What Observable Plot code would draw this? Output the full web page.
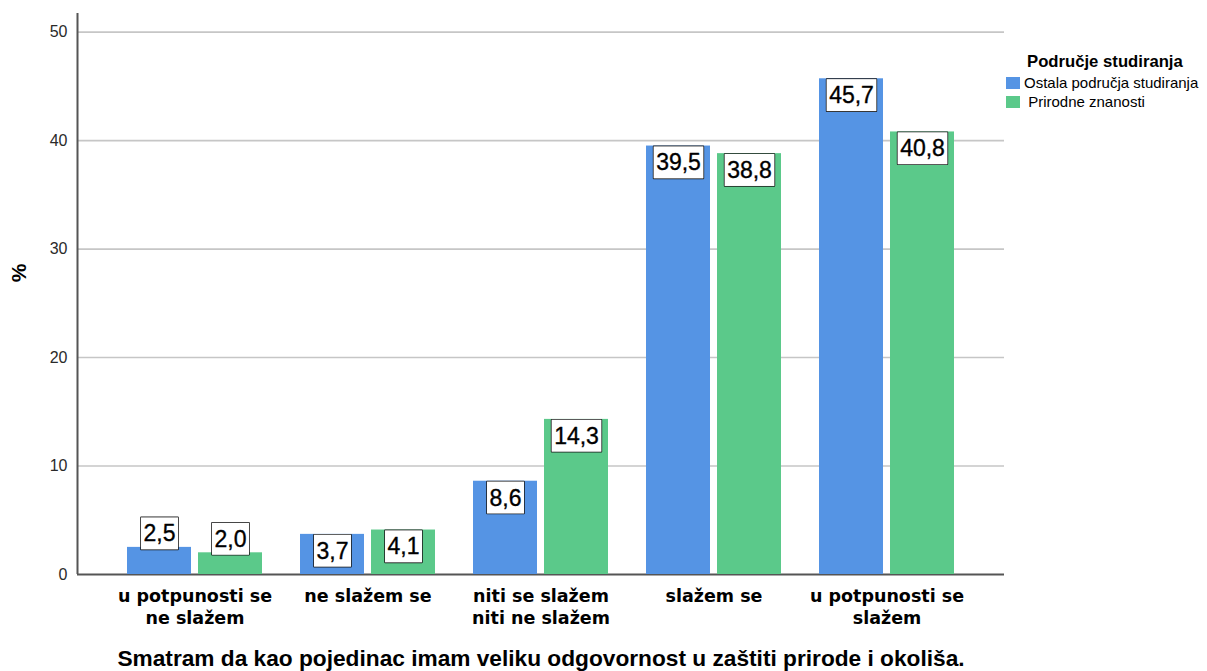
<!DOCTYPE html>
<html>
<head>
<meta charset="utf-8">
<script src="https://cdn.jsdelivr.net/npm/d3@7"></script>
<script src="https://cdn.jsdelivr.net/npm/@observablehq/plot@0.6"></script>
<style>
  body { margin: 0; background: #fff; }
  #wrap { position: relative; width: 1207px; height: 671px; overflow: hidden; font-family: "Liberation Sans", Arial, sans-serif; }
  #wrap svg { position: absolute; left: 0; top: 0; }
  #ytitle { position: absolute; left: 19px; top: 273px; transform: translate(-50%, -50%) rotate(-90deg); font-weight: bold; font-size: 21px; color: #000; white-space: nowrap; }
  #xtitle { position: absolute; left: 541px; top: 658px; transform: translate(-50%, -50%); font-weight: bold; font-size: 22.7px; line-height: 24px; color: #000; white-space: nowrap; }
  #legend { position: absolute; left: 1006px; top: 52px; color: #000; }
  #legend .lt { font-weight: bold; font-size: 16.7px; margin-left: 21px; line-height: 20px; margin-bottom: 2px; }
  #legend .it { display: flex; align-items: center; font-size: 15px; line-height: 18px; height: 18.5px; white-space: nowrap; }
  #legend .sw { width: 14px; height: 12px; margin-right: 4px; flex: none; }
</style>
</head>
<body>
<div id="wrap"></div>
<script>
// ---- data ----
const categories = ["u potpunosti se\nne slažem", "ne slažem se", "niti se slažem\nniti ne slažem", "slažem se", "u potpunosti se\nslažem"];
const seriesNames = ["Ostala područja studiranja", "Prirodne znanosti"];
const ostalaValues = [2.5, 3.7, 8.6, 39.5, 45.7];
const prirodneValues = [2.0, 4.1, 14.3, 38.8, 40.8];
const yTicks = [0, 10, 20, 30, 40, 50];
const seriesColors = ["#5594e4", "#5bc98a"];
const legendTitle = "Područje studiranja";
const xTitle = "Smatram da kao pojedinac imam veliku odgovornost u zaštiti prirode i okoliša.";
const yTitle = "%";

// ---- table ----
const rows = [];
categories.forEach((c, i) => {
  rows.push({category: c, series: seriesNames[0], value: ostalaValues[i]});
  rows.push({category: c, series: seriesNames[1], value: prirodneValues[i]});
});
const fmt = v => v.toFixed(1).replace(".", ",");

const W = 1207, H = 640;
const M = {top: 13, bottom: H - 574, left: 77, right: 1207 - 1004};
const yDomain = [0, 51.72];

const wrap = document.getElementById("wrap");

// ---- base layer: grid + axes ----
const basePlot = Plot.plot({
  width: W, height: H,
  marginTop: M.top, marginBottom: M.bottom, marginLeft: M.left, marginRight: M.right,
  style: {background: "transparent", fontFamily: "'Liberation Sans', Arial, sans-serif", fontSize: "16px", color: "#2a2a2a"},
  x: {domain: [0, 1], axis: null},
  y: {domain: yDomain, ticks: yTicks, tickSize: 0, tickPadding: 10, label: null, tickFormat: d => String(d)},
  marks: [
    Plot.ruleY(yTicks.filter(d => d > 0), {stroke: "#c6c6c6", strokeWidth: 1.6}),
    Plot.ruleY([0], {stroke: "#555", strokeWidth: 2}),
    Plot.ruleX([0], {stroke: "#555", strokeWidth: 2})
  ]
});
wrap.appendChild(basePlot);

// ---- top layer: bars + labels ----
const barPlot = Plot.plot({
  width: W, height: H,
  marginTop: M.top, marginBottom: M.bottom, marginLeft: M.left, marginRight: M.right,
  style: {background: "transparent", fontFamily: "'Liberation Sans', Arial, sans-serif"},
  fx: {domain: categories, paddingInner: 0.2215, paddingOuter: 0.283, axis: null, label: null},
  x: {domain: seriesNames, paddingInner: 0.1, paddingOuter: 0, axis: null},
  y: {domain: yDomain, axis: null},
  color: {domain: seriesNames, range: seriesColors},
  marks: [
    Plot.barY(rows, {fx: "category", x: "series", y: "value", fill: "series"}),
    Plot.text(rows.filter(d => d.value >= 3), {
      fx: "category", x: "series", y: "value", text: d => fmt(d.value),
      lineAnchor: "top", dy: 8, fontSize: 23, fill: "#000", stroke: "#000", strokeWidth: 0.35
    }),
    Plot.text(rows.filter(d => d.value < 3), {
      fx: "category", x: "series", y: "value", text: d => fmt(d.value),
      lineAnchor: "bottom", dy: -6, fontSize: 23, fill: "#000", stroke: "#000", strokeWidth: 0.35
    }),
    Plot.text(categories, {
      fx: d => d, text: d => d, frameAnchor: "bottom", lineAnchor: "top", dy: 12,
      fontSize: 17.5, fontWeight: "bold", fontFamily: "'DejaVu Sans', Verdana, sans-serif",
      lineHeight: 1.25, fill: "#000"
    })
  ]
});
wrap.appendChild(barPlot);

// boxes behind the value labels
d3.select(barPlot).selectAll("text")
  .filter(function () { return /^\d+,\d$/.test(this.textContent); })
  .each(function () {
    const bb = this.getBBox();
    const px = 2.5, py = 3;
    const r = document.createElementNS("http://www.w3.org/2000/svg", "rect");
    r.setAttribute("x", bb.x - px);
    r.setAttribute("y", bb.y - py);
    r.setAttribute("width", bb.width + 2 * px);
    r.setAttribute("height", bb.height + 2 * py);
    r.setAttribute("fill", "#fff");
    r.setAttribute("stroke", "#1a1a1a");
    r.setAttribute("stroke-width", "1.6");
    const t = this.getAttribute("transform");
    if (t) r.setAttribute("transform", t);
    this.parentNode.insertBefore(r, this);
  });

// titles
const yt = document.createElement("div");
yt.id = "ytitle"; yt.textContent = yTitle; wrap.appendChild(yt);
const xt = document.createElement("div");
xt.id = "xtitle"; xt.textContent = xTitle; wrap.appendChild(xt);

// legend
const colorScale = barPlot.scale("color");
const lg = document.createElement("div");
lg.id = "legend";
const lt = document.createElement("div");
lt.className = "lt"; lt.textContent = legendTitle; lg.appendChild(lt);
seriesNames.forEach((s, i) => {
  const it = document.createElement("div");
  it.className = "it";
  const sw = document.createElement("span");
  sw.className = "sw"; sw.style.background = colorScale.apply(s);
  const tx = document.createElement("span");
  tx.textContent = (i === 1 ? " " : "") + s;
  tx.style.whiteSpace = "pre";
  it.appendChild(sw); it.appendChild(tx);
  lg.appendChild(it);
});
wrap.appendChild(lg);
</script>
</body>
</html>
